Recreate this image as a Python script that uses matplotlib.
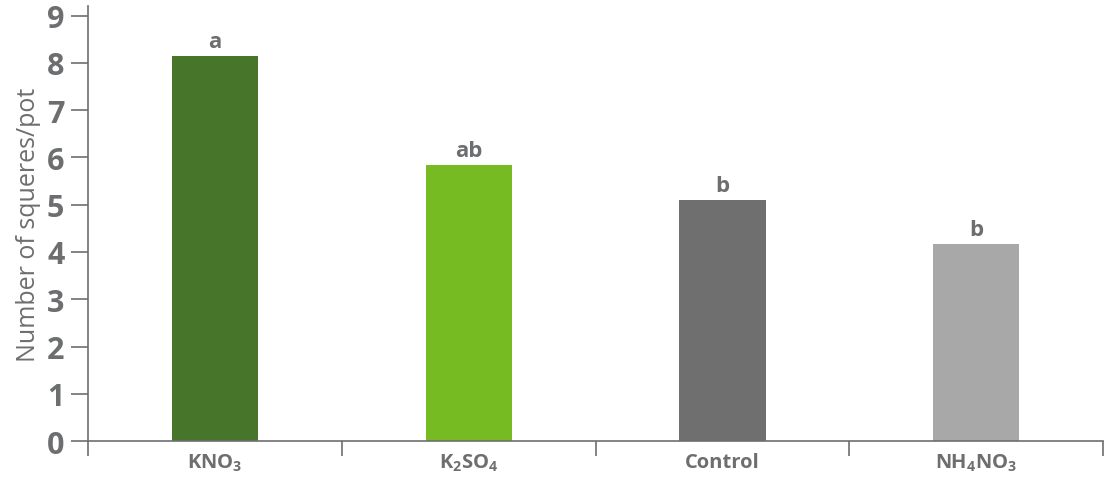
import matplotlib
matplotlib.use("Agg")
import matplotlib.pyplot as plt
import numpy as np

plt.rcParams["font.family"] = ["Open Sans", "DejaVu Sans"]
plt.rcParams["mathtext.fontset"] = "custom"
plt.rcParams["mathtext.rm"] = "Open Sans"
plt.rcParams["mathtext.bf"] = "Open Sans:bold"
plt.rcParams["mathtext.default"] = "regular"

categories = ["KNO$_3$", "K$_2$SO$_4$", "Control", "NH$_4$NO$_3$"]
values = [8.15, 5.85, 5.1, 4.17]
letters = ["a", "ab", "b", "b"]
colors = ["#47752a", "#76bb22", "#6e6f6e", "#a7a8a7"]
text_color = "#6d6e70"

fig = plt.figure(figsize=(11.07, 4.81), dpi=100)
ax = fig.add_axes([0.0795, 0.081, 0.917, 0.905])

x = np.arange(len(categories))
ax.bar(x, values, width=0.34, color=colors, zorder=2)

for xi, v, lab in zip(x, values, letters):
    ax.text(xi, v + 0.08, lab, ha="center", va="bottom", fontsize=16,
            fontweight="bold", color=text_color)

ax.set_xlim(-0.5, len(categories) - 0.5)
ax.set_ylim(0, 9.21)
ax.set_yticks(range(10))
ax.set_yticklabels([str(i) for i in range(10)], fontsize=22,
                   fontweight="bold", color=text_color)
ax.set_xticks(x)
ax.set_xticklabels(categories, fontsize=14.5, fontweight="bold",
                   color=text_color)
ax.set_xticks(np.arange(-0.5, len(categories)), minor=True)
ax.tick_params(axis="x", which="major", length=0, pad=8)
ax.tick_params(axis="x", which="minor", length=11, width=1.2,
               color=text_color, direction="out")
ax.tick_params(axis="y", length=12, width=1.2, color=text_color, pad=5)

ax.set_ylabel("Number of squeres/pot", fontsize=18, color=text_color,
              labelpad=4)

for s in ["top", "right"]:
    ax.spines[s].set_visible(False)
for s in ["left", "bottom"]:
    ax.spines[s].set_color(text_color)
    ax.spines[s].set_linewidth(1.2)

fig.savefig("out.png", dpi=100)
